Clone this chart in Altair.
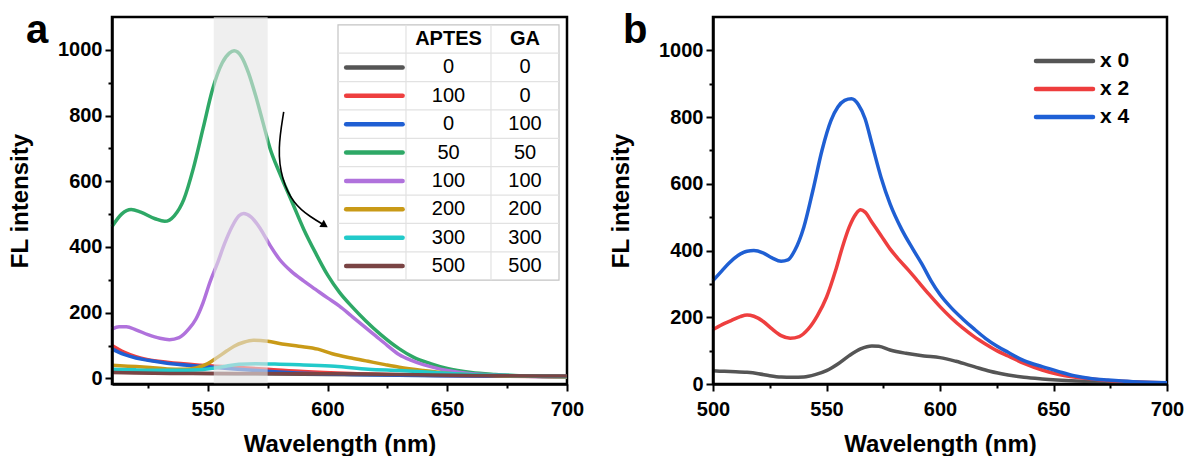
import altair as alt
import pandas as pd

# ---------------- panel a: spectra for different APTES / GA amounts ----------------
a_names = ["0/0", "100/0", "0/100", "50/50", "100/100", "200/200", "300/300", "500/500"]
a_colors = ["#555555", "#ee3f3f", "#1f5fd3", "#2ea866", "#b072dc", "#c99a17", "#22caca", "#7a4444"]
tbl_aptes = ["0", "100", "0", "50", "100", "200", "300", "500"]
tbl_ga = ["0", "0", "100", "50", "100", "200", "300", "500"]

a_wl_gray = [510, 530, 550, 570, 600, 630, 660, 700]
a_fl_gray = [20, 17, 15, 14, 12, 10, 8, 6]

a_wl_red = [510, 515, 520, 525, 533, 547, 561, 575, 590, 610, 640, 670, 700]
a_fl_red = [100, 80, 66, 57, 49, 40, 34, 28, 21, 15, 10, 7, 5]

a_wl_blue = [510, 515, 520, 525, 533, 547, 561, 575, 590, 610, 640, 670, 700]
a_fl_blue = [90, 73, 62, 55, 46, 37, 29, 22, 16, 12, 9, 7, 6]

a_wl_green = [510, 514, 518, 522, 528, 532, 536, 540, 544, 548, 552, 556, 559, 561,
              564, 567, 570, 573, 576, 580, 585, 590, 595, 600, 605, 610, 616, 622, 630,
              636, 643, 650, 660, 670, 680, 690, 700]
a_fl_green = [462, 500, 514, 506, 486, 478, 495, 545, 640, 760, 880, 960, 990, 997,
              980, 930, 860, 780, 700, 625, 540, 455, 382, 315, 262, 220, 175, 135, 90,
              64, 45, 30, 18, 12, 8, 6, 5]

a_wl_purple = [510, 513, 516, 520, 525, 530, 534, 538, 542, 545, 548, 551, 554, 557, 560,
               563, 565, 568, 572, 576, 580, 585, 590, 595, 600, 605, 610, 615, 620, 625,
               630, 635, 640, 645, 650, 660, 670, 680, 700]
a_fl_purple = [150, 157, 157, 148, 133, 122, 118, 124, 150, 180, 230, 295, 350, 410, 460,
               495, 502, 492, 455, 405, 362, 325, 297, 271, 245, 220, 190, 160, 130, 100,
               72, 55, 42, 32, 24, 14, 10, 7, 5]

a_wl_gold = [510, 515, 520, 526, 533, 540, 545, 550, 554, 558, 561, 565, 569, 575, 581,
             588, 596, 602, 610, 617, 624, 630, 640, 650, 660, 680, 700]
a_fl_gold = [40, 38, 36, 33, 29, 28, 32, 45, 64, 84, 98, 110, 116, 113, 105,
             98, 89, 75, 62, 52, 42, 34, 24, 16, 11, 7, 5]

a_wl_cyan = [510, 520, 530, 540, 548, 553, 558, 563, 570, 578, 590, 603, 617, 630, 645, 660, 680, 700]
a_fl_cyan = [28, 26, 25, 25, 27, 32, 38, 43, 45, 44, 41, 37, 28, 24, 18, 12, 8, 6]

a_wl_brown = [510, 540, 570, 600, 630, 660, 700]
a_fl_brown = [18, 15, 15, 14, 12, 9, 7]

# highlighted excitation window and the trend arrow
band_wl = [552.5, 575]
arrow_wl = [581.7, 579.2, 580.8, 585.8, 592.9, 598.8]
arrow_fl = [811, 698, 607, 531, 491, 466]

# ---------------- panel b: spectra for repeated cycles ----------------
b_names = ["x 0", "x 2", "x 4"]
b_colors = ["#555555", "#ee3d3d", "#1e60d6"]

b_wl_gray = [500, 505, 510, 515, 520, 525, 530, 535, 540, 545, 550, 555, 560, 565, 570,
             573, 578, 585, 593, 600, 607, 615, 622, 630, 637, 645, 660, 680, 700]
b_fl_gray = [40, 38, 37, 35, 31, 25, 21, 20, 21, 28, 40, 60, 85, 105, 114,
             113, 102, 92, 84, 79, 68, 52, 38, 27, 20, 15, 9, 5, 3]

b_wl_red = [500, 504, 508, 512, 515, 518, 522, 526, 530, 534, 538, 542, 546, 550, 554,
            557, 560, 563, 565, 567, 570, 574, 578, 582, 586, 590, 595, 600, 605, 610,
            615, 620, 625, 630, 637, 645, 652, 660, 670, 680, 690, 700]
b_fl_red = [163, 178, 190, 202, 207, 203, 188, 165, 145, 137, 142, 165, 205, 260, 340,
            410, 470, 510, 522, 515, 485, 445, 405, 372, 342, 310, 270, 232, 198, 168,
            142, 120, 100, 84, 62, 42, 29, 20, 13, 8, 5, 3]

b_wl_blue = [500, 504, 507, 511, 515, 518, 522, 526, 530, 533, 536, 540, 544, 548, 552,
             555, 558, 561, 564, 567, 570, 574, 578, 583, 588, 592, 596, 600, 605, 610,
             615, 620, 625, 630, 637, 645, 652, 659, 667, 674, 685, 700]
b_fl_blue = [310, 340, 362, 385, 398, 400, 393, 378, 368, 372, 400, 470, 580, 700, 790,
             830, 850, 855, 838, 795, 720, 620, 540, 465, 405, 360, 310, 268, 228, 195,
             165, 137, 114, 95, 70, 52, 38, 25, 16, 12, 7, 4]


def long_frame(names, wls, fls):
    rows = []
    for order, (name, wl, fl) in enumerate(zip(names, wls, fls)):
        for w, f in zip(wl, fl):
            rows.append({"series": name, "k": order, "wl": w, "fl": f})
    return pd.DataFrame(rows)


df_a = long_frame(a_names,
                  [a_wl_gray, a_wl_red, a_wl_blue, a_wl_green, a_wl_purple, a_wl_gold, a_wl_cyan, a_wl_brown],
                  [a_fl_gray, a_fl_red, a_fl_blue, a_fl_green, a_fl_purple, a_fl_gold, a_fl_cyan, a_fl_brown])
df_b = long_frame(b_names,
                  [b_wl_gray, b_wl_red, b_wl_blue],
                  [b_fl_gray, b_fl_red, b_fl_blue])

FONT = "Liberation Sans"
W_A, W_B, H = 455, 454, 367


def y_axis():
    return alt.Axis(
        values=list(range(0, 1001, 100)), format="d",
        labelExpr="datum.value % 200 === 0 ? datum.label : ''",
        tickSize={"condition": {"test": "datum.value % 200 === 0", "value": 7}, "value": 4},
        labelOverlap=False, labelPadding=3, titlePadding=25, zindex=1,
    )


def x_axis(values):
    return alt.Axis(
        values=values, format="d",
        labelExpr="datum.value % 50 === 0 ? datum.label : ''",
        tickSize={"condition": {"test": "datum.value % 50 === 0", "value": 7}, "value": 4},
        labelOverlap=False, labelFlush=False, labelPadding=8, titlePadding=13, zindex=1,
    )


xs_a = alt.Scale(domain=[510, 700], nice=False, zero=False)
ys_a = alt.Scale(domain=[-17, 1100], nice=False, zero=False)
xs_b = alt.Scale(domain=[500, 700], nice=False, zero=False)
ys_b = alt.Scale(domain=[0, 1100], nice=False, zero=False)

X_A = alt.X("wl:Q", scale=xs_a, axis=x_axis(list(range(525, 701, 25))), title="Wavelength (nm)")
Y_A = alt.Y("fl:Q", scale=ys_a, axis=y_axis(), title="FL intensity")

lines_a = alt.Chart(df_a).mark_line(strokeWidth=3.5, interpolate="monotone").encode(
    x=X_A, y=Y_A,
    color=alt.Color("series:N", scale=alt.Scale(domain=a_names, range=a_colors), legend=None),
    detail="k:O",
)

arrow_df = pd.DataFrame({"wl": arrow_wl, "fl": arrow_fl, "i": list(range(len(arrow_wl)))})
arrow_line = alt.Chart(arrow_df).mark_line(color="black", strokeWidth=1.6, interpolate="basis").encode(
    x=X_A, y=Y_A, order="i:Q")
arrow_head = alt.Chart(arrow_df.tail(1)).mark_point(
    shape="triangle-right", filled=True, color="black", size=70, angle=32, opacity=1).encode(x=X_A, y=Y_A)

band = alt.Chart(pd.DataFrame({"wl": [band_wl[0]], "wl2": [band_wl[1]]})).mark_rect(
    color="#e4e4e4", opacity=0.6).encode(x=X_A, x2="wl2:Q")

tag_a = alt.Chart(pd.DataFrame({"t": ["a"]})).mark_text(
    font=FONT, fontSize=40, fontWeight="bold", align="left", baseline="alphabetic", color="black").encode(
    text="t:N", x=alt.value(-86), y=alt.value(26))

core_a = alt.layer(lines_a, arrow_line, arrow_head, band, tag_a)

# legend table: columns = sample line | APTES | GA, rows = header + 8 series
col_scale = alt.Scale(domain=[0, 1, 2, 3], range=[226, 294, 379, 447], nice=False, zero=False)
row_scale = alt.Scale(domain=[0, 8], range=[22, 249], nice=False, zero=False)


def TX(field):
    return alt.X(field, scale=col_scale, axis=None)


def TY(field):
    return alt.Y(field, scale=row_scale, axis=None)


frame_df = pd.DataFrame({"c0": [0], "c1": [3], "r0": [-0.5], "r1": [8.5]})
tbl_frame = alt.Chart(frame_df).mark_rect(fill="white", stroke="#c4c4c4", strokeWidth=1.2).encode(
    x=TX("c0:Q"), x2="c1:Q", y=TY("r0:Q"), y2="r1:Q")

hlines_df = pd.DataFrame({"c0": 0, "c1": 3, "r": [i + 0.5 for i in range(8)]})
tbl_h = alt.Chart(hlines_df).mark_rule(color="#e2e2e2", strokeWidth=1.2).encode(
    x=TX("c0:Q"), x2="c1:Q", y=TY("r:Q"))
vlines_df = pd.DataFrame({"c": [1, 2], "r0": -0.5, "r1": 8.5})
tbl_v = alt.Chart(vlines_df).mark_rule(color="#e2e2e2", strokeWidth=1.2).encode(
    x=TX("c:Q"), y=TY("r0:Q"), y2="r1:Q")

head_df = pd.DataFrame({"c": [1.5, 2.5], "r": [0, 0], "t": ["APTES", "GA"]})
tbl_head = alt.Chart(head_df).mark_text(font=FONT, fontSize=20, fontWeight="bold", color="black").encode(
    x=TX("c:Q"), y=TY("r:Q"), text="t:N")

vals_df = pd.DataFrame({
    "c": [1.5] * 8 + [2.5] * 8,
    "r": list(range(1, 9)) * 2,
    "t": tbl_aptes + tbl_ga,
})
tbl_vals = alt.Chart(vals_df).mark_text(font=FONT, fontSize=20, color="black").encode(
    x=TX("c:Q"), y=TY("r:Q"), text="t:N")

swatch_df = pd.DataFrame({"c0": 0.12, "c1": 0.95, "r": list(range(1, 9)), "hex": a_colors})
tbl_swatch = alt.Chart(swatch_df).mark_rule(strokeWidth=4.5, strokeCap="round").encode(
    x=TX("c0:Q"), x2="c1:Q", y=TY("r:Q"), color=alt.Color("hex:N", scale=None))

table_a = alt.layer(tbl_frame, tbl_h, tbl_v, tbl_head, tbl_vals, tbl_swatch)

panel_a = alt.layer(core_a, table_a).resolve_scale(x="independent", y="independent").properties(
    width=W_A, height=H)

# ---------------- panel b ----------------
X_B = alt.X("wl:Q", scale=xs_b, axis=x_axis(list(range(500, 701, 25))), title="Wavelength (nm)")
Y_B = alt.Y("fl:Q", scale=ys_b, axis=y_axis(), title="FL intensity")

lines_b = alt.Chart(df_b).mark_line(strokeWidth=3.5, interpolate="monotone").encode(
    x=X_B, y=Y_B,
    color=alt.Color("series:N", scale=alt.Scale(domain=b_names, range=b_colors), legend=None),
    detail="k:O",
)

tag_b = alt.Chart(pd.DataFrame({"t": ["b"]})).mark_text(
    font=FONT, fontSize=40, fontWeight="bold", align="left", baseline="alphabetic", color="black").encode(
    text="t:N", x=alt.value(-90), y=alt.value(26))

core_b = alt.layer(lines_b, tag_b)

leg_df = pd.DataFrame({"r": [0, 1, 2], "t": b_names, "hex": b_colors})
leg_scale = alt.Scale(domain=[0, 2], range=[44, 100], nice=False, zero=False)
leg_lines = alt.Chart(leg_df).mark_rule(strokeWidth=4.5, strokeCap="round").encode(
    x=alt.value(323), x2=alt.value(380),
    y=alt.Y("r:Q", scale=leg_scale, axis=None),
    color=alt.Color("hex:N", scale=None))
leg_text = alt.Chart(leg_df).mark_text(
    font=FONT, fontSize=21, fontWeight="bold", align="left", baseline="middle", color="black").encode(
    x=alt.value(387), y=alt.Y("r:Q", scale=leg_scale, axis=None), text="t:N")
legend_b = alt.layer(leg_lines, leg_text)

panel_b = alt.layer(core_b, legend_b).resolve_scale(y="independent").properties(width=W_B, height=H)

chart = alt.hconcat(panel_a, panel_b, spacing=23).properties(
    padding={"left": 7, "top": 9, "right": 0, "bottom": 0},
    background="white",
).configure_view(
    stroke="black", strokeWidth=2.5,
).configure_axis(
    domainColor="black", domainWidth=2.5, tickColor="black", tickWidth=2,
    labelFont=FONT, labelFontSize=20, labelFontWeight="bold", labelColor="black",
    titleFont=FONT, titleFontSize=24, titleFontWeight="bold", titleColor="black",
    grid=False,
)

chart.save("out.html", embed_options={"renderer": "svg", "actions": False})
